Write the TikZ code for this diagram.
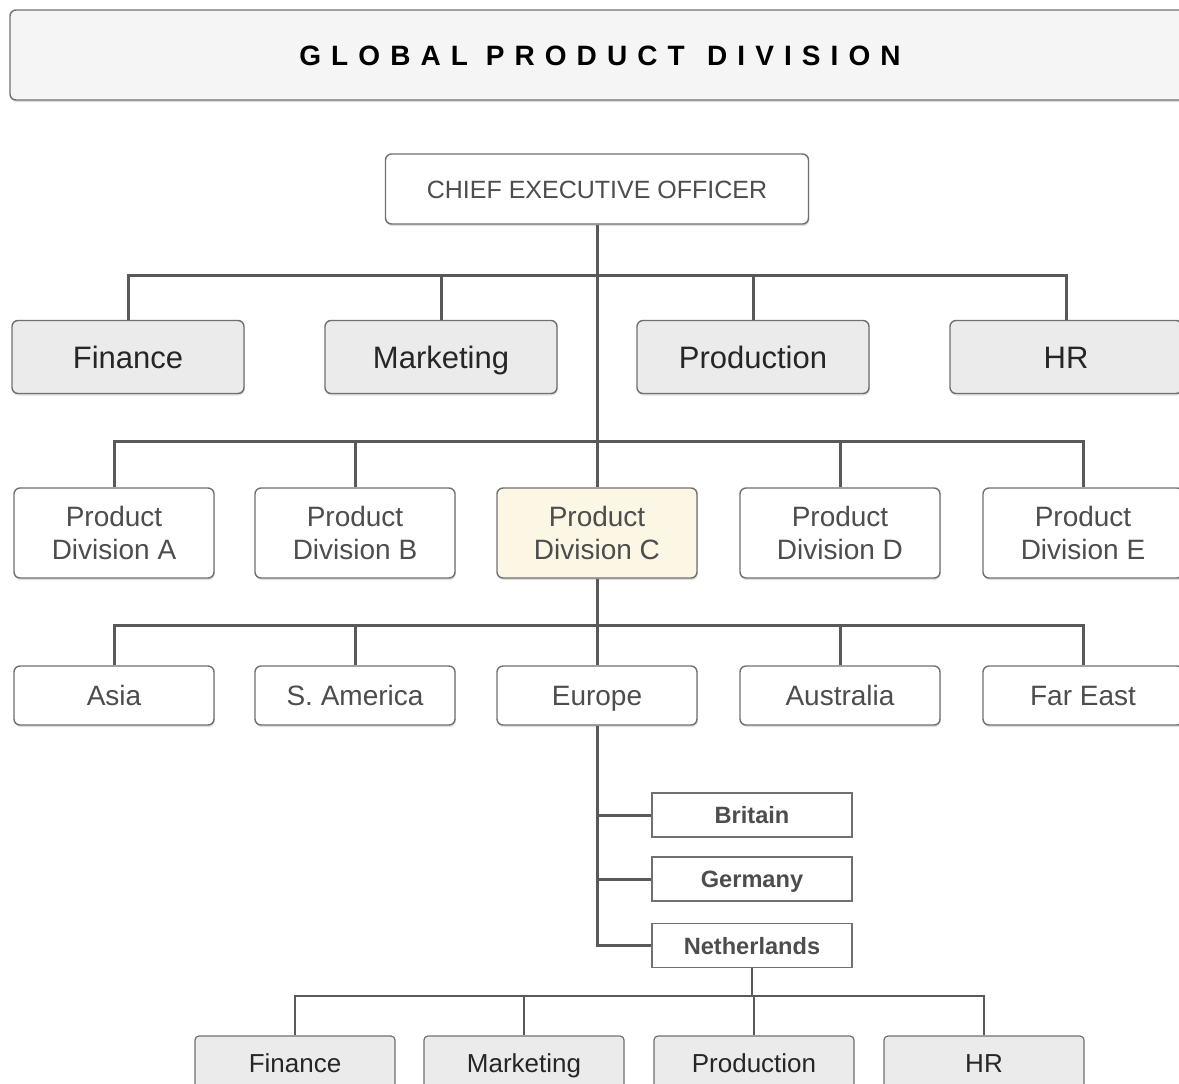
\documentclass[tikz,border=0pt]{standalone}
\usepackage{fontspec}
\setmainfont{Liberation Sans}
\usetikzlibrary{shadows}
\definecolor{linegray}{HTML}{595959}
\definecolor{boxline}{HTML}{707070}
\definecolor{textgray}{HTML}{4D4D4D}
\definecolor{deptfill}{HTML}{EBEBEB}
\definecolor{titlefill}{HTML}{F5F5F5}
\definecolor{highlight}{HTML}{FCF7E4}
\begin{document}
\begin{tikzpicture}[
  x=0.5pt, y=-0.5pt,
  box/.style={draw=boxline, line width=0.7pt, rounded corners=3pt, fill=white,
    drop shadow={shadow xshift=0.4pt, shadow yshift=-1pt, opacity=0.25},
    text=textgray, align=center, inner sep=0pt},
  oneline/.style={text height=#1, text depth=0pt},
  titlebox/.style={box, fill=titlefill, drop shadow={opacity=0},
    minimum width=590pt, minimum height=45pt, text=black, oneline=10.4pt,
    font=\bfseries\fontsize{14}{17}\selectfont},
  chief/.style={box, minimum width=211.5pt, minimum height=35pt, oneline=9.4pt,
    font=\fontsize{12.5}{15}\selectfont},
  dept/.style={box, fill=deptfill, minimum width=116pt, minimum height=36.5pt,
    text=black!85, oneline=11.6pt, font=\fontsize{15.5}{18}\selectfont},
  division/.style={box, minimum width=100pt, minimum height=45pt,
    font=\fontsize{14}{16.5}\selectfont},
  region/.style={box, minimum width=100pt, minimum height=29.5pt, oneline=10.4pt,
    font=\fontsize{14}{16.5}\selectfont},
  country/.style={draw=boxline, line width=0.7pt, fill=white, minimum width=100pt,
    minimum height=22pt, inner sep=0pt, text=textgray, oneline=8.8pt,
    font=\bfseries\fontsize{11.8}{14}\selectfont},
  subdept/.style={draw=boxline, line width=0.6pt, rounded corners=2pt, fill=deptfill,
    minimum width=100pt, minimum height=27pt, inner sep=0pt, text=black!85,
    oneline=9.6pt, font=\fontsize{13}{15}\selectfont},
  link/.style={draw=linegray, line width=1.5pt},
  thinlink/.style={draw=linegray, line width=0.7pt}
]
\useasboundingbox (0,0) rectangle (1179,1083);
\clip (0,0) rectangle (1179,1083);

% title bar
\node[titlebox] (title) at (600,55)
  {\addfontfeatures{LetterSpace=36}GLOBAL PRODUCT\hspace{0.8em}DIVISION};

% head office
\node[chief] (ceo) at (597,189) {CHIEF EXECUTIVE OFFICER};
\node[dept] (fin) at (128,357) {Finance};
\node[dept] (mkt) at (441,357) {Marketing};
\node[dept] (prod) at (753,357) {Production};
\node[dept] (hr) at (1066,357) {HR};

% product divisions
\node[division] (pda) at (114,533) {Product\\Division A};
\node[division] (pdb) at (355,533) {Product\\Division B};
\node[division, fill=highlight] (pdc) at (597,533) {Product\\Division C};
\node[division] (pdd) at (840,533) {Product\\Division D};
\node[division] (pde) at (1083,533) {Product\\Division E};

% regions of division C
\node[region] (asia) at (114,695.5) {Asia};
\node[region] (sam) at (355,695.5) {S. America};
\node[region] (europe) at (597,695.5) {Europe};
\node[region] (aus) at (840,695.5) {Australia};
\node[region] (fareast) at (1083,695.5) {Far East};

% countries of Europe
\node[country] (britain) at (752,815) {Britain};
\node[country] (germany) at (752,879) {Germany};
\node[country] (neth) at (752,945.5) {Netherlands};

% functions in the Netherlands
\node[subdept] (nfin) at (295,1063) {Finance};
\node[subdept] (nmkt) at (524,1063) {Marketing};
\node[subdept] (nprod) at (754,1063) {Production};
\node[subdept] (nhr) at (984,1063) {HR};

% connectors
\coordinate (bar1) at (597,275);
\coordinate (bar2) at (597,441);
\coordinate (bar3) at (597,625);
\coordinate (bar4) at (752,996);
\draw[link] (ceo.south) -- (pdc.north);
\foreach \n in {fin,mkt,prod,hr}
  \draw[link] (\n.north) |- (bar1);
\foreach \n in {pda,pdb,pdd,pde}
  \draw[link] (\n.north) |- (bar2);
\draw[link] (pdc.south) -- (europe.north);
\foreach \n in {asia,sam,aus,fareast}
  \draw[link] (\n.north) |- (bar3);
\draw[link] (europe.south) |- (neth.west);
\draw[link] (europe.south |- britain.west) -- (britain.west);
\draw[link] (europe.south |- germany.west) -- (germany.west);
\draw[thinlink] (neth.south) -- (bar4);
\foreach \n in {nfin,nmkt,nprod,nhr}
  \draw[thinlink] (\n.north) |- (bar4);
\end{tikzpicture}
\end{document}
